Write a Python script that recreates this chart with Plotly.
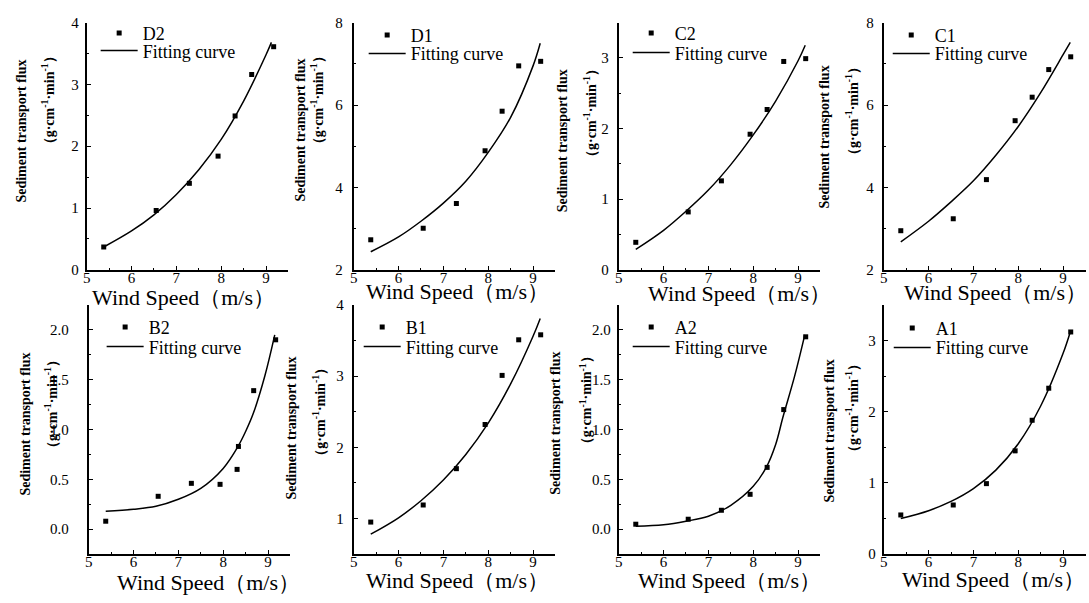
import plotly.graph_objects as go

W, H = 1089, 603

# ---------------- data ----------------
wind = [5.38, 6.55, 7.29, 7.93, 8.31, 8.68, 9.17]

D2_flux = [0.37, 0.96, 1.40, 1.84, 2.49, 3.16, 3.61]
D1_flux = [2.73, 3.01, 3.61, 4.89, 5.85, 6.95, 7.06]
C2_flux = [0.39, 0.82, 1.26, 1.92, 2.27, 2.95, 2.99]
C1_flux = [2.95, 3.24, 4.19, 5.62, 6.19, 6.86, 7.17]
B2_wind = [5.38, 6.55, 7.29, 7.93, 8.31, 8.34, 8.68, 9.17]
B2_flux = [0.08, 0.33, 0.46, 0.45, 0.60, 0.83, 1.39, 1.90]
B1_flux = [0.95, 1.19, 1.70, 2.32, 3.01, 3.51, 3.58]
A2_flux = [0.05, 0.10, 0.19, 0.35, 0.62, 1.20, 1.93]
A1_flux = [0.55, 0.69, 0.99, 1.45, 1.88, 2.33, 3.12]

# fitting curves
fit_wind = [5.38, 6.0, 6.5, 7.0, 7.5, 8.0, 8.5, 9.0, 9.16]
D2_fit_wind = [5.38, 6.0, 6.5, 7.0, 7.5, 8.0, 8.5, 9.0, 9.12]
D2_fit = [0.37, 0.63, 0.89, 1.22, 1.62, 2.11, 2.73, 3.48, 3.68]
D1_fit = [2.44, 2.80, 3.18, 3.62, 4.15, 4.85, 5.70, 6.95, 7.50]
C2_fit = [0.29, 0.56, 0.83, 1.13, 1.49, 1.91, 2.39, 2.96, 3.18]
C1_fit = [2.68, 3.18, 3.65, 4.16, 4.78, 5.48, 6.30, 7.22, 7.52]
B1_fit = [0.78, 1.01, 1.25, 1.54, 1.90, 2.34, 2.89, 3.56, 3.81]
A1_fit = [0.50, 0.61, 0.74, 0.92, 1.18, 1.55, 2.08, 2.82, 3.12]
B2_fit_wind = [5.38, 6.0, 6.5, 7.0, 7.5, 8.0, 8.33, 8.5, 8.67, 8.93, 9.15]
B2_fit = [0.18, 0.20, 0.23, 0.30, 0.41, 0.61, 0.83, 0.98, 1.16, 1.54, 1.95]
A2_fit_wind = [5.38, 6.0, 6.5, 7.0, 7.5, 8.0, 8.29, 8.5, 8.66, 8.92, 9.15]
A2_fit = [0.03, 0.045, 0.08, 0.13, 0.24, 0.43, 0.62, 0.85, 1.12, 1.53, 1.95]

panel_names = ["D2", "D1", "C2", "C1", "B2", "B1", "A2", "A1"]
points_x = [wind, wind, wind, wind, B2_wind, wind, wind, wind]
points_y = [D2_flux, D1_flux, C2_flux, C1_flux, B2_flux, B1_flux, A2_flux, A1_flux]
curve_x = [D2_fit_wind, fit_wind, fit_wind, fit_wind, B2_fit_wind, fit_wind, A2_fit_wind, fit_wind]
curve_y = [D2_fit, D1_fit, C2_fit, C1_fit, B2_fit, B1_fit, A2_fit, A1_fit]

x_range = [5, 9.5]
y_ranges = [[0, 4], [2, 8], [0, 3.5], [2, 8], [-0.25, 2.25], [0.5, 4], [-0.25, 2.25], [0, 3.5]]
y_dticks = [1, 2, 1, 2, 0.5, 1, 0.5, 1]
y_formats = ["d", "d", "d", "d", ".1f", "d", ".1f", "d"]

# ---------------- layout geometry (pixels) ----------------
axis_left = [83, 351, 617, 883, 85, 351, 617, 883]
row_top = [15, 15, 15, 15, 305, 305, 305, 305]
row_bottom = [269, 269, 269, 269, 561, 561, 561, 561]
px_per_unit_x = 45
label_standoff = [3, 6, 5, 5, 15, 5, 3, 3]

ytitle1_pos = [(18, 126), (298, 125), (560, 136), (824, 132), (22, 427), (289, 431), (554, 426), (829, 434)]
ytitle2_pos = [(45, 95), (315, 95), (588, 108), (851, 106), (47, 407), (316, 415), (584, 403), (851, 411)]
xtitle_pos = [(180, 297), (455, 291), (738, 293), (995, 292), (205, 590), (455, 588), (728, 588), (993, 587)]
legend_marker_pos = [(118, 32), (387, 34), (652, 32), (913, 34), (124, 327), (382, 327), (652, 327), (914, 328)]
legend_line_y = [50, 53, 52, 53, 347, 347, 347, 348]
legend_offset = [25, 25, 25, 25, 18, 18, 18, 18]

serif = "Liberation Serif"


def px2x(px):
    return px / W


def px2y(py):
    return 1 - py / H


fig = go.Figure()
layout = dict(
    width=W, height=H,
    margin=dict(l=0, r=0, t=0, b=0),
    paper_bgcolor="white", plot_bgcolor="white",
    showlegend=True,
    font=dict(family=serif, color="black"),
    annotations=[],
)


def legend_box(px_x, px_y):
    return dict(
        x=px2x(px_x), y=px2y(px_y), xanchor="left", yanchor="top",
        bgcolor="rgba(0,0,0,0)", borderwidth=0,
        font=dict(family=serif, size=18, color="black"),
        itemwidth=37, tracegroupgap=0,
    )


for i in range(8):
    n = i + 1
    sfx = "" if n == 1 else str(n)
    xa, ya = "x" + sfx, "y" + sfx
    leg_a = "legend" + ("" if i == 0 else str(2 * i + 1))
    leg_b = "legend" + str(2 * i + 2)

    fig.add_trace(go.Scatter(
        x=points_x[i], y=points_y[i], mode="markers", name=panel_names[i],
        marker=dict(symbol="square", size=5, color="black"),
        xaxis=xa, yaxis=ya, legend=leg_a, showlegend=True, cliponaxis=False))
    fig.add_trace(go.Scatter(
        x=curve_x[i], y=curve_y[i], mode="lines", name="Fitting curve",
        line=dict(color="black", width=1.5, shape="spline", smoothing=1.0),
        xaxis=xa, yaxis=ya, legend=leg_b, showlegend=True, cliponaxis=False))

    L = axis_left[i]
    R = L + (x_range[1] - x_range[0]) * px_per_unit_x
    layout["xaxis" + sfx] = dict(
        domain=[px2x(L), px2x(R)], range=x_range, anchor=ya,
        showline=True, linecolor="black", linewidth=2,
        ticks="inside", ticklen=4, tickwidth=1.2, tickcolor="black",
        dtick=1, tick0=5, showgrid=False, zeroline=False,
        minor=dict(ticks="inside", ticklen=2, dtick=0.5, tickcolor="black", showgrid=False),
        tickfont=dict(family=serif, size=15, color="black"),
        ticklabelstandoff=-7,
    )
    layout["yaxis" + sfx] = dict(
        domain=[px2y(row_bottom[i]), px2y(row_top[i])], range=y_ranges[i], anchor=xa,
        showline=True, linecolor="black", linewidth=2,
        ticks="inside", ticklen=4, tickwidth=1.2, tickcolor="black",
        dtick=y_dticks[i], tick0=0, tickformat=y_formats[i],
        showgrid=False, zeroline=False,
        minor=dict(ticks="inside", ticklen=2, dtick=y_dticks[i] / 2, tickcolor="black", showgrid=False),
        tickfont=dict(family=serif, size=15, color="black"),
        ticklabelstandoff=label_standoff[i],
    )

    mx, my = legend_marker_pos[i]
    off = legend_offset[i]
    layout[leg_a] = legend_box(mx - 26, my - off)
    layout[leg_b] = legend_box(mx - 26, legend_line_y[i] - off)

    # y-axis titles
    cx, cy = ytitle1_pos[i]
    layout["annotations"].append(dict(
        text="<b>Sediment transport flux</b>", x=px2x(cx), y=px2y(cy),
        xref="paper", yref="paper", showarrow=False, textangle=-90,
        xanchor="center", yanchor="middle",
        font=dict(family=serif, size=14, color="black")))
    cx, cy = ytitle2_pos[i]
    layout["annotations"].append(dict(
        text="<b>（g·cm<sup>-1</sup>·min<sup>-1</sup>）</b>", x=px2x(cx), y=px2y(cy),
        xref="paper", yref="paper", showarrow=False, textangle=-90,
        xanchor="center", yanchor="middle",
        font=dict(family=serif, size=14, color="black")))
    # x-axis titles
    cx, cy = xtitle_pos[i]
    layout["annotations"].append(dict(
        text="Wind Speed（m/s）", x=px2x(cx), y=px2y(cy),
        xref="paper", yref="paper", showarrow=False,
        xanchor="center", yanchor="middle",
        font=dict(family=serif, size=22, color="black")))

fig.update_layout(**layout)
fig.write_html("out.html")
